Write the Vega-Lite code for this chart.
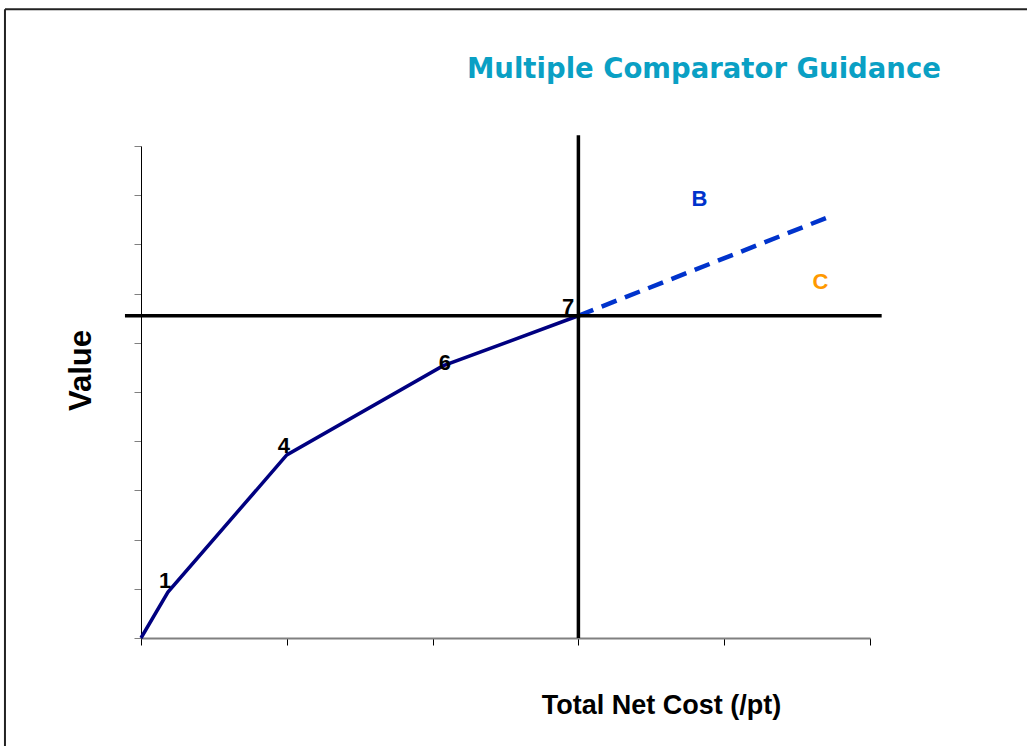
{
  "$schema": "https://vega.github.io/schema/vega-lite/v6.json",
  "width": 729,
  "height": 492,
  "autosize": {"type": "none"},
  "padding": {"left": 141, "top": 146, "right": 157, "bottom": 108},
  "background": "white",
  "config": {"view": {"stroke": null}, "font": "Liberation Sans"},
  "title": {
    "text": "Multiple Comparator Guidance",
    "anchor": "start",
    "frame": "group",
    "dx": 326,
    "offset": -97,
    "baseline": "alphabetic",
    "font": "DejaVu Sans",
    "fontSize": 27.5,
    "fontWeight": "bold",
    "color": "#0aa0c4"
  },
  "datasets": {
    "curve": [
      {"cost": 0, "value": 0, "part": "solid"},
      {"cost": 0.185, "value": 0.935, "part": "solid"},
      {"cost": 1.0, "value": 3.72, "part": "solid"},
      {"cost": 2.07, "value": 5.53, "part": "solid"},
      {"cost": 3.0, "value": 6.55, "part": "solid"},
      {"cost": 3.0, "value": 6.55, "part": "dashed"},
      {"cost": 4.72, "value": 8.56, "part": "dashed"}
    ],
    "refs": [
      {"cost": -0.11, "value": 6.55, "cost2": 5.08, "value2": 6.55, "kind": "ref"},
      {"cost": 3.0, "value": 0, "cost2": 3.0, "value2": 10.22, "kind": "ref"},
      {"cost": -0.933, "value": 12.78, "cost2": 8, "value2": 12.78, "kind": "frame"},
      {"cost": -0.933, "value": 12.78, "cost2": -0.933, "value2": -4, "kind": "frame"}
    ],
    "labels": [
      {"cost": 0.165, "value": 1.02, "text": "1", "kind": "num"},
      {"cost": 0.98, "value": 3.76, "text": "4", "kind": "num"},
      {"cost": 2.085, "value": 5.45, "text": "6", "kind": "num"},
      {"cost": 2.93, "value": 6.58, "text": "7", "kind": "num"},
      {"cost": 3.83, "value": 8.78, "text": "B", "kind": "B"},
      {"cost": 4.66, "value": 7.09, "text": "C", "kind": "C"}
    ]
  },
  "layer": [
    {
      "data": {"name": "curve"},
      "transform": [{"filter": "datum.part === 'solid'"}],
      "mark": {"type": "line", "color": "#000080", "strokeWidth": 3.5},
      "encoding": {
        "x": {
          "field": "cost", "type": "quantitative",
          "scale": {"domain": [0, 5], "nice": false, "zero": false},
          "axis": {
            "values": [0, 1, 2, 3, 4, 5], "labels": false, "grid": false,
            "tickSize": 7, "tickColor": "#000000", "tickWidth": 1,
            "domainColor": "#808080", "domainWidth": 2,
            "title": "Total Net Cost (/pt)", "titleFont": "Liberation Sans",
            "titleFontSize": 27, "titleFontWeight": "bold", "titleColor": "#000000",
            "titleX": 520, "titleY": 75, "titleAlign": "center", "titleBaseline": "alphabetic"
          }
        },
        "y": {
          "field": "value", "type": "quantitative",
          "scale": {"domain": [0, 10], "nice": false, "zero": false},
          "axis": {
            "values": [0, 1, 2, 3, 4, 5, 6, 7, 8, 9, 10], "labels": false, "grid": false,
            "tickSize": 7, "tickColor": "#808080", "tickWidth": 1,
            "domainColor": "#000000", "domainWidth": 1,
            "title": "Value", "titleFont": "Liberation Sans",
            "titleFontSize": 31, "titleFontWeight": "bold", "titleColor": "#000000",
            "titleX": -60, "titleY": 224, "titleAngle": -90,
            "titleAlign": "center", "titleBaseline": "middle"
          }
        }
      }
    },
    {
      "data": {"name": "curve"},
      "transform": [{"filter": "datum.part === 'dashed'"}],
      "mark": {"type": "line", "color": "#0033cc", "strokeWidth": 4.5, "strokeDash": [16, 9]},
      "encoding": {
        "x": {"field": "cost", "type": "quantitative"},
        "y": {"field": "value", "type": "quantitative"}
      }
    },
    {
      "data": {"name": "refs"},
      "mark": {"type": "rule", "color": "#000000", "strokeWidth": 3.5},
      "transform": [{"filter": "datum.kind === 'ref'"}],
      "encoding": {
        "x": {"field": "cost", "type": "quantitative"},
        "x2": {"field": "cost2"},
        "y": {"field": "value", "type": "quantitative"},
        "y2": {"field": "value2"}
      }
    },
    {
      "data": {"name": "refs"},
      "mark": {"type": "rule", "color": "#222222", "strokeWidth": 2},
      "transform": [{"filter": "datum.kind === 'frame'"}],
      "encoding": {
        "x": {"field": "cost", "type": "quantitative"},
        "x2": {"field": "cost2"},
        "y": {"field": "value", "type": "quantitative"},
        "y2": {"field": "value2"}
      }
    },
    {
      "data": {"name": "labels"},
      "mark": {"type": "text", "font": "Liberation Sans", "fontWeight": "bold", "fontSize": 22, "align": "center", "baseline": "alphabetic"},
      "encoding": {
        "x": {"field": "cost", "type": "quantitative"},
        "y": {"field": "value", "type": "quantitative"},
        "text": {"field": "text"},
        "color": {
          "field": "kind", "type": "nominal", "legend": null,
          "scale": {"domain": ["num", "B", "C"], "range": ["#000000", "#0033cc", "#ff9900"]}
        }
      }
    }
  ]
}
